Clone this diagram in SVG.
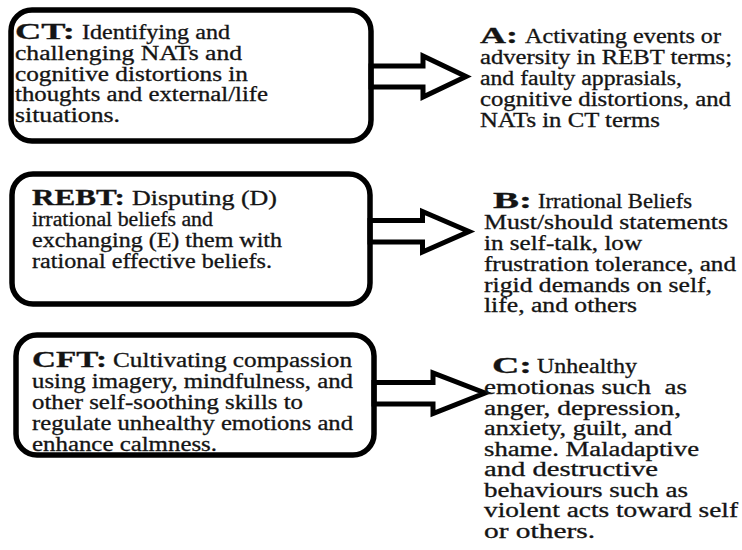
<svg xmlns="http://www.w3.org/2000/svg" width="742" height="550" viewBox="0 0 742 550">
<style>
.box{fill:none;stroke:#000;stroke-width:5.5}
.arrow{fill:#fff;stroke:#000;stroke-width:5;stroke-linejoin:miter;stroke-miterlimit:10}
.t{font-family:"Liberation Serif","Times New Roman",serif;font-size:20px;fill:#141414;stroke:#141414;stroke-width:0.3}
.lbl{font-weight:bold;font-size:24px}
</style>
<rect width="742" height="550" fill="#fff"/>
<g id="connectors">
<path class="arrow" d="M371,66 H423 V56 L466,76.5 L423,97 V87 H371 Z"/>
<path class="arrow" d="M370,220.5 H422.5 V211.5 L469,231.5 L422.5,252 V242 H370 Z"/>
<path class="arrow" d="M374,382.5 H433 V373 L485,393 L433,413.5 V404 H374 Z"/>
</g>
<g id="node-ct">
<text class="t lbl" x="15" y="38.5" textLength="60" lengthAdjust="spacingAndGlyphs">CT:</text>
<text class="t" x="82" y="38.5" textLength="148" lengthAdjust="spacingAndGlyphs">Identifying and</text>
<text class="t" x="15" y="59.5" textLength="227" lengthAdjust="spacingAndGlyphs">challenging NATs and</text>
<text class="t" x="15" y="80.5" textLength="233" lengthAdjust="spacingAndGlyphs">cognitive distortions in</text>
<text class="t" x="15" y="101" textLength="253" lengthAdjust="spacingAndGlyphs">thoughts and external/life</text>
<text class="t" x="15" y="122" textLength="105" lengthAdjust="spacingAndGlyphs">situations.</text>
<rect class="box" x="11" y="10" width="360" height="131" rx="21"/>
</g>
<g id="node-rebt">
<text class="t lbl" x="32" y="205" textLength="93" lengthAdjust="spacingAndGlyphs">REBT:</text>
<text class="t" x="132" y="205" textLength="145" lengthAdjust="spacingAndGlyphs">Disputing (D)</text>
<text class="t" x="32" y="226" textLength="181" lengthAdjust="spacingAndGlyphs">irrational beliefs and</text>
<text class="t" x="32" y="247" textLength="250" lengthAdjust="spacingAndGlyphs">exchanging (E) them with</text>
<text class="t" x="32" y="268" textLength="240" lengthAdjust="spacingAndGlyphs">rational effective beliefs.</text>
<rect class="box" x="12" y="174" width="358" height="130" rx="21"/>
</g>
<g id="node-cft">
<text class="t lbl" x="32" y="367" textLength="75" lengthAdjust="spacingAndGlyphs">CFT:</text>
<text class="t" x="113" y="367" textLength="239" lengthAdjust="spacingAndGlyphs">Cultivating compassion</text>
<text class="t" x="32" y="388" textLength="321" lengthAdjust="spacingAndGlyphs">using imagery, mindfulness, and</text>
<text class="t" x="32" y="409" textLength="271" lengthAdjust="spacingAndGlyphs">other self-soothing skills to</text>
<text class="t" x="32" y="430" textLength="321" lengthAdjust="spacingAndGlyphs">regulate unhealthy emotions and</text>
<text class="t" x="32" y="451" textLength="185" lengthAdjust="spacingAndGlyphs">enhance calmness.</text>
<rect class="box" x="16" y="335" width="358" height="120" rx="21"/>
</g>
<g id="node-a">
<text class="t lbl" x="480" y="43" textLength="38" lengthAdjust="spacingAndGlyphs">A:</text>
<text class="t" x="525" y="43" textLength="196" lengthAdjust="spacingAndGlyphs">Activating events or</text>
<text class="t" x="480" y="64" textLength="252" lengthAdjust="spacingAndGlyphs">adversity in REBT terms;</text>
<text class="t" x="480" y="85" textLength="202" lengthAdjust="spacingAndGlyphs">and faulty apprasials,</text>
<text class="t" x="480" y="106" textLength="251" lengthAdjust="spacingAndGlyphs">cognitive distortions, and</text>
<text class="t" x="480" y="127" textLength="180" lengthAdjust="spacingAndGlyphs">NATs in CT terms</text>
</g>
<g id="node-b">
<text class="t lbl" x="493" y="208" textLength="39" lengthAdjust="spacingAndGlyphs">B:</text>
<text class="t" x="538" y="208" textLength="154" lengthAdjust="spacingAndGlyphs">Irrational Beliefs</text>
<text class="t" x="484" y="229" textLength="244" lengthAdjust="spacingAndGlyphs">Must/should statements</text>
<text class="t" x="484" y="250" textLength="158" lengthAdjust="spacingAndGlyphs">in self-talk, low</text>
<text class="t" x="484" y="271" textLength="252" lengthAdjust="spacingAndGlyphs">frustration tolerance, and</text>
<text class="t" x="484" y="291.5" textLength="228" lengthAdjust="spacingAndGlyphs">rigid demands on self,</text>
<text class="t" x="484" y="312" textLength="153" lengthAdjust="spacingAndGlyphs">life, and others</text>
</g>
<g id="node-c">
<text class="t lbl" x="492" y="373" textLength="40" lengthAdjust="spacingAndGlyphs">C:</text>
<text class="t" x="537" y="373" textLength="100" lengthAdjust="spacingAndGlyphs">Unhealthy</text>
<text class="t" x="484" y="394" textLength="203" lengthAdjust="spacingAndGlyphs" xml:space="preserve">emotionas such  as</text>
<text class="t" x="484" y="414.5" textLength="197" lengthAdjust="spacingAndGlyphs">anger, depression,</text>
<text class="t" x="484" y="435" textLength="188" lengthAdjust="spacingAndGlyphs">anxiety, guilt, and</text>
<text class="t" x="484" y="455.5" textLength="215" lengthAdjust="spacingAndGlyphs">shame. Maladaptive</text>
<text class="t" x="484" y="476" textLength="174" lengthAdjust="spacingAndGlyphs">and destructive</text>
<text class="t" x="484" y="496.5" textLength="204" lengthAdjust="spacingAndGlyphs">behaviours such as</text>
<text class="t" x="484" y="517" textLength="254" lengthAdjust="spacingAndGlyphs">violent acts toward self</text>
<text class="t" x="484" y="537.5" textLength="111" lengthAdjust="spacingAndGlyphs">or others.</text>
</g>
</svg>
